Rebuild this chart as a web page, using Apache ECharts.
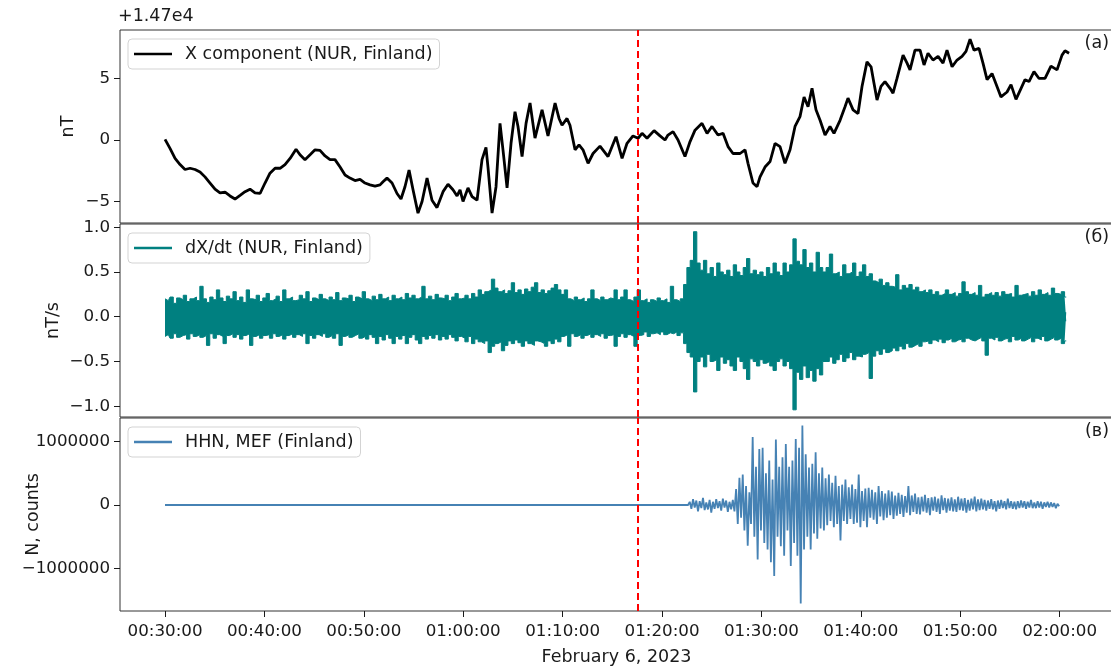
<!DOCTYPE html>
<html><head><meta charset="utf-8">
<script src="https://cdn.jsdelivr.net/npm/echarts@6/dist/echarts.min.js"></script>
<style>html,body{margin:0;padding:0;background:#fff}#c{width:1111px;height:666px}</style>
</head><body><div id="c"></div>
<script>
// time axis in minutes after 00:30:00 UTC, February 6, 2023
const xTicks = [0,10,20,30,40,50,60,70,80,90];
const yTicksX = [-5,0,5];
const yTicksD = [-1,-0.5,0,0.5,1];
const yTicksS = [-1000000,0,1000000];
const quakeMin = 47.58; // 01:17:35

// X component (offset from 14700 nT)
const xcT = [0,0.5,1.01,1.51,2.01,2.52,3.02,3.52,4.02,4.53,
5.03,5.53,6.04,6.54,7.04,7.55,8.05,8.55,9.05,9.56,
10.06,10.56,11.07,11.57,12.07,12.58,13.18,13.58,14.08,14.59,
15.09,15.59,16.1,16.6,17.1,17.61,18.11,18.61,19.11,19.62,
20.12,20.62,21.13,21.63,21.93,22.33,22.84,23.34,23.74,24.14,
24.55,24.95,25.45,25.86,26.36,26.86,27.36,27.97,28.47,28.97,
29.38,29.68,29.98,30.48,30.89,31.39,31.89,32.29,32.49,32.9,
33.3,33.7,34,34.41,34.81,35.21,35.51,35.92,36.32,36.72,
37.22,37.93,38.53,39.24,39.64,39.94,40.44,40.74,41.25,41.65,
42.05,42.56,43.06,43.76,44.57,45.37,45.98,46.48,47.08,47.59,
47.99,48.49,49.2,49.8,50.3,50.6,51.11,51.61,52.31,52.82,
53.32,54.02,54.53,55.03,55.63,56.14,56.64,57.14,57.85,58.35,
58.65,59.15,59.56,59.86,60.36,60.87,61.37,61.87,62.37,62.88,
63.38,63.88,64.29,64.69,65.09,65.49,65.9,66.4,66.9,67.3,
67.91,68.41,68.71,69.22,69.72,70.12,70.62,71.03,71.33,71.63,
72.03,72.43,72.94,73.24,73.64,74.25,74.65,74.95,75.45,75.96,
76.36,76.76,77.26,77.77,78.27,78.67,79.18,79.68,80.18,80.58,
80.99,81.39,81.89,82.29,82.7,83.2,83.7,84.1,84.71,85.11,
85.61,86.12,86.52,86.92,87.42,87.93,88.53,89.13,89.74,90.24,
90.54,90.95];
const xcV = [0.05,-0.68,-1.5,-2.0,-2.4,-2.3,-2.4,-2.6,-3.0,-3.5,
-4.0,-4.3,-4.25,-4.55,-4.8,-4.5,-4.2,-4.0,-4.3,-4.35,
-3.5,-2.7,-2.3,-2.3,-2.0,-1.5,-0.75,-1.2,-1.6,-1.2,
-0.8,-0.85,-1.3,-1.6,-1.6,-2.2,-2.85,-3.1,-3.3,-3.2,
-3.5,-3.65,-3.75,-3.65,-3.4,-3.1,-3.5,-4.35,-4.8,-3.8,
-2.45,-4.05,-5.95,-5.0,-3.1,-4.9,-5.5,-4.2,-3.6,-4.05,
-4.55,-4.05,-5.0,-3.9,-4.6,-4.9,-1.6,-0.6,-2.2,-5.95,
-3.8,1.35,-0.8,-3.9,-0.27,2.3,1.1,-1.35,1.35,3.0,
0.15,2.45,0.33,3.0,1.75,1.2,1.75,1.2,-0.8,-0.4,
-0.8,-1.9,-1.1,-0.5,-1.35,0.27,-1.5,-0.27,0.33,0.14,
0.54,0.14,0.76,0.33,0,0.4,0.68,0,-1.35,-0.13,
0.8,1.35,0.54,1.1,0.4,0.54,-0.54,-1.1,-1.1,-0.8,
-1.9,-3.5,-3.8,-3.0,-2.2,-1.75,-0.27,-0.54,-1.9,-0.8,
1.1,1.9,3.5,2.7,4.2,2.45,1.6,0.4,1.1,0.54,
1.6,2.7,3.4,2.45,2.15,4.35,6.35,5.95,4.6,3.25,
4.35,4.75,4.2,3.8,5.0,6.9,6.25,5.7,7.3,7.3,
6.1,7.05,6.5,6.8,6.25,7.3,5.95,6.5,6.8,7.2,
8.2,7.3,7.45,6.25,4.9,5.4,4.35,3.5,3.9,4.5,
3.3,4.2,4.9,4.75,5.55,5.0,5.0,6.0,5.7,6.9,
7.25,7.05];

// dX/dt: upper and lower excursions in each 20 s interval from 00:30:00
const dStepMin = 1/3;
const dHi = [.2,.18,.22,.15,.21,.19,.24,.17,.2,.22,
.18,.34,.2,.16,.22,.19,.3,.21,.17,.23,
.2,.28,.18,.22,.16,.3,.2,.19,.24,.17,
.21,.26,.18,.2,.23,.17,.3,.2,.22,.18,
.19,.24,.2,.28,.17,.21,.19,.25,.2,.18,
.22,.19,.27,.18,.21,.2,.24,.17,.22,.2,
.28,.2,.18,.23,.19,.25,.2,.22,.18,.24,
.2,.22,.19,.26,.21,.24,.2,.22,.34,.2,
.23,.19,.25,.21,.2,.24,.18,.22,.26,.2,
.21,.24,.2,.26,.22,.3,.25,.28,.3,.42,
.32,.28,.3,.26,.29,.38,.27,.3,.25,.31,
.28,.33,.38,.27,.3,.26,.29,.32,.36,.3,
.25,.3,.2,.18,.22,.19,.21,.17,.2,.3,
.2,.18,.22,.19,.21,.2,.3,.19,.22,.3,
.19,.17,.22,.3,.18,.2,.16,.19,.17,.21,
.18,.2,.16,.34,.19,.17,.2,.36,.55,.63,
.95,.6,.52,.63,.48,.55,.45,.6,.5,.47,
.52,.45,.58,.5,.46,.55,.65,.48,.52,.47,
.5,.45,.55,.48,.6,.5,.46,.6,.5,.58,
.87,.62,.58,.75,.55,.6,.5,.72,.55,.5,
.55,.7,.48,.5,.45,.58,.48,.5,.6,.45,
.5,.58,.45,.48,.4,.38,.42,.35,.38,.34,
.33,.47,.3,.35,.32,.36,.3,.33,.28,.3,
.27,.3,.25,.28,.24,.26,.3,.25,.27,.23,
.26,.39,.28,.25,.27,.24,.35,.22,.25,.27,
.24,.27,.23,.28,.25,.26,.22,.35,.24,.25,
.26,.23,.28,.24,.3,.25,.27,.24,.32,.26,
.25,.28,.22];
const dLo = [-.22,-.2,-.24,-.19,-.23,-.21,-.2,-.25,-.19,-.22,
-.2,-.23,-.21,-.32,-.19,-.24,-.2,-.22,-.3,-.21,
-.19,-.23,-.2,-.25,-.21,-.19,-.32,-.22,-.2,-.24,
-.21,-.2,-.24,-.19,-.22,-.2,-.25,-.21,-.19,-.23,
-.2,-.22,-.19,-.3,-.21,-.24,-.2,-.22,-.19,-.23,
-.21,-.24,-.19,-.32,-.22,-.2,-.23,-.21,-.19,-.24,
-.22,-.25,-.2,-.23,-.3,-.22,-.26,-.2,-.24,-.3,
-.22,-.25,-.21,-.3,-.23,-.2,-.26,-.3,-.22,-.25,
-.21,-.24,-.2,-.26,-.22,-.25,-.2,-.23,-.27,-.22,
-.24,-.28,-.22,-.3,-.25,-.28,-.3,-.27,-.4,-.33,
-.3,-.28,-.38,-.32,-.27,-.3,-.26,-.29,-.33,-.27,
-.3,-.32,-.27,-.28,-.3,-.33,-.27,-.3,-.25,-.28,
-.22,-.2,-.33,-.19,-.22,-.2,-.24,-.21,-.19,-.23,
-.2,-.22,-.19,-.24,-.21,-.2,-.33,-.22,-.19,-.23,
-.2,-.22,-.33,-.21,-.2,-.17,-.22,-.19,-.18,-.2,
-.17,-.2,-.18,-.19,-.17,-.21,-.18,-.3,-.4,-.45,
-.84,-.5,-.45,-.56,-.42,-.5,-.48,-.6,-.45,-.52,
-.48,-.55,-.6,-.45,-.5,-.58,-.7,-.47,-.5,-.55,
-.48,-.52,-.5,-.55,-.6,-.5,-.47,-.55,-.5,-.58,
-1.04,-.62,-.7,-.55,-.68,-.6,-.72,-.58,-.65,-.5,
-.5,-.45,-.52,-.48,-.42,-.5,-.46,-.4,-.48,-.44,
-.45,-.42,-.4,-.69,-.44,-.38,-.42,-.36,-.4,-.38,
-.35,-.38,-.33,-.36,-.3,-.34,-.32,-.3,-.33,-.28,
-.27,-.3,-.26,-.28,-.25,-.29,-.26,-.24,-.28,-.26,
-.25,-.28,-.24,-.26,-.27,-.25,-.23,-.27,-.43,-.24,
-.26,-.23,-.27,-.25,-.24,-.28,-.22,-.26,-.24,-.27,
-.25,-.23,-.28,-.24,-.26,-.22,-.27,-.25,-.23,-.26,
-.24,-.3,-.27];

// Seismometer HHN, MEF: quiet (0) until 01:22:37, then samples every 10 s
const sQuietVal = 0;
const sStartMin = 52.62;
const sStepMin = 1/6;
const sVals = [0,5e4,-6e4,9e4,-4e4,7e4,-1e5,6e4,-5e4,1.1e5,
-8e4,4e4,-7e4,8e4,-1.2e5,5e4,-6e4,9e4,-5e4,6e4,
-9e4,1e5,-4e4,7e4,-1.1e5,5e4,-7e4,8e4,-1e5,2.5e5,
-3e5,4.3e5,-2e5,4.8e5,-4e5,3e5,-6.4e5,2e5,-3e5,1.07e6,
-5e5,6e5,-8.6e5,8.8e5,-4e5,9e5,-6e5,5e5,-7e5,7e5,
-9e5,4e5,-1.12e6,1.03e6,-5e5,6e5,-6.5e5,7.5e5,-8e5,9.6e5,
-4e5,6e5,-9.6e5,7e5,-6e5,1.04e6,-8e5,9e5,-1.55e6,1.25e6,
-7e5,8e5,-5e5,5.9e5,-7e5,6.5e5,-4.5e5,8.3e5,-5.3e5,5e5,
-3.7e5,5.9e5,-4e5,4.2e5,-3.2e5,4.8e5,-2.5e5,3.5e5,-3.5e5,4.6e5,
-3e5,3e5,-5.6e5,3.2e5,-2.5e5,4e5,-3e5,2.8e5,-2.2e5,3.2e5,
-3e5,2.5e5,-2.8e5,4.8e5,-3.5e5,2.2e5,-2.5e5,2.6e5,-3.5e5,2.7e5,
-2e5,2.4e5,-2.3e5,2e5,-3e5,3e5,-1.8e5,2.2e5,-2.4e5,1.8e5,
-2e5,2.3e5,-1.6e5,2.1e5,-2.2e5,1.5e5,-1.7e5,1.9e5,-1.4e5,1.6e5,
-1.9e5,1.4e5,-1.2e5,3e5,-1.6e5,1.5e5,-1.1e5,1.8e5,-1.4e5,1.2e5,
-1.5e5,1.3e5,-1e5,1.6e5,-1.2e5,1.1e5,-1.6e5,1.2e5,-9e4,1.3e5,
-1.1e5,1e5,-1.4e5,1.5e5,-8e4,1.1e5,-1.2e5,1e5,-9e4,1.2e5,
-1e5,9e4,-1.1e5,1.3e5,-8e4,1e5,-9e4,1.1e5,-1.2e5,8e4,
-9e4,1e5,-7e4,1.3e5,-1e5,9e4,-8e4,1e5,-7e4,8e4,
-9e4,7e4,-6e4,9e4,-7e4,6e4,-1e5,7e4,-6e4,8e4,
-5e4,6e4,-7e4,1e5,-5e4,6e4,-6e4,5e4,-7e4,6e4,
-5e4,7e4,-4e4,6e4,-6e4,5e4,-4e4,8e4,-5e4,4e4,
-5e4,6e4,-4e4,5e4,-6e4,4e4,-3e4,5e4,-4e4,4e4,
-3e4,3e4,-5e4,2e4,-2e4];

const xcData = xcT.map((t,i)=>[t, xcV[i]]);
const dHiData = dHi.map((v,i)=>[i*dStepMin, v]);
const dLoData = dLo.map((v,i)=>[i*dStepMin, v]);
const sData = [[0, sQuietVal]];
sVals.forEach((v,k)=>{ sData.push([sStartMin + k*sStepMin, v]); });

const FONT = 'DejaVu Sans';
const TXT = '#1a1a1a';
const TICKFS = 16.7, BIGFS = 17.5;
const TEAL = '#008080';
const minus = s => String(s).replace('-', '\u2212');
const pad = n => (n<10?'0':'') + n;
function fmtTime(m){
  const tot = 30*60 + Math.round(m*60);
  return pad(Math.floor(tot/3600)) + ':' + pad(Math.floor(tot%3600/60)) + ':' + pad(tot%60);
}
const xMin = -4.53, xMax = 95.37;
const grids = [
  {left:120, right:-2, top:30, height:193},
  {left:120, right:-2, top:224, height:193},
  {left:120, right:-2, top:418, height:193}
].map(g => Object.assign(g, {show:true, borderColor:'#333', borderWidth:1, backgroundColor:'transparent',
   containLabel:false, outerBoundsMode:'none'}));

function xAx(i, show){
  return {type:'value', gridIndex:i, min:xMin, max:xMax,
    axisLine:{show:false, onZero:false}, splitLine:{show:false},
    axisTick:{show:show, customValues:xTicks, length:6, lineStyle:{color:TXT}},
    axisLabel:{show:show, customValues:xTicks, formatter:fmtTime, fontSize:TICKFS, color:TXT, fontFamily:FONT, margin:12},
    name: show ? 'February 6, 2023' : '', nameLocation:'middle', nameGap:37, nameMoveOverlap:false,
    nameTextStyle:{fontSize:BIGFS, color:TXT, fontFamily:FONT}};
}
function yAx(i, min, max, ticks, fmt, name, gap){
  return {type:'value', gridIndex:i, min:min, max:max,
    axisLine:{show:false, onZero:false}, splitLine:{show:false},
    axisTick:{show:true, customValues:ticks, length:6, lineStyle:{color:TXT}},
    axisLabel:{customValues:ticks, formatter:fmt, fontSize:TICKFS, color:TXT, fontFamily:FONT, margin:10},
    name:name, nameLocation:'middle', nameGap:gap, nameMoveOverlap:false,
    nameTextStyle:{fontSize:BIGFS, color:TXT, fontFamily:FONT}};
}
const legCommon = {left:128, orient:'horizontal', icon:'rect', itemWidth:38, itemHeight:2.5,
  padding:[6,7,6,6], backgroundColor:'rgba(255,255,255,0.8)', borderColor:'#d3d3d3', borderWidth:1, borderRadius:4,
  selectedMode:false, textStyle:{fontSize:BIGFS, color:TXT, fontFamily:FONT, padding:[0,0,0,8]}};
const mark = {silent:true, symbol:['none','none'], label:{show:false}, animation:false,
  lineStyle:{color:'#ff0000', width:2, type:[7,4]}, data:[{xAxis:quakeMin}]};
const dName = 'dX/dt (NUR, Finland)';

const chart = echarts.init(document.getElementById('c'), null, {renderer:'canvas'});
chart.setOption({
  animation:false,
  textStyle:{fontFamily:FONT},
  grid: grids,
  xAxis:[xAx(0,false), xAx(1,false), xAx(2,true)],
  yAxis:[
    yAx(0, -6.75, 8.94, yTicksX, v=>minus(v), 'nT', 43),
    yAx(1, -1.12, 1.036, yTicksD, v=>minus(v.toFixed(1)), 'nT/s', 58),
    yAx(2, -1670000, 1370000, yTicksS, v=>minus(v), 'N, counts', 78)
  ],
  legend:[
    Object.assign({}, legCommon, {top:39, data:['X component (NUR, Finland)']}),
    Object.assign({}, legCommon, {top:233, data:[dName]}),
    Object.assign({}, legCommon, {top:427, data:['HHN, MEF (Finland)']})
  ],
  graphic:[
    {type:'text', left:118, top:7, style:{text:'+1.47e4', fontSize:BIGFS, fill:TXT, fontFamily:FONT}},
    {type:'text', right:2, top:34, style:{text:'(a)', fontSize:BIGFS, fill:TXT, fontFamily:FONT}},
    {type:'text', right:2, top:228, style:{text:'(б)', fontSize:BIGFS, fill:TXT, fontFamily:FONT}},
    {type:'text', right:2, top:422, style:{text:'(в)', fontSize:BIGFS, fill:TXT, fontFamily:FONT}}
  ],
  series:[
    {type:'line', name:'X component (NUR, Finland)', xAxisIndex:0, yAxisIndex:0, data:xcData,
     symbol:'none', showSymbol:false, lineStyle:{color:'#000', width:2.8}, itemStyle:{color:'#000'}, markLine:mark},
    {type:'line', name:dName, xAxisIndex:1, yAxisIndex:1, data:dHiData, step:'middle',
     symbol:'none', showSymbol:false, lineStyle:{color:TEAL, width:1}, itemStyle:{color:TEAL},
     areaStyle:{color:TEAL, opacity:1, origin:-0.05}},
    {type:'line', name:dName, xAxisIndex:1, yAxisIndex:1, data:dLoData, step:'middle',
     symbol:'none', showSymbol:false, lineStyle:{color:TEAL, width:1}, itemStyle:{color:TEAL},
     areaStyle:{color:TEAL, opacity:1, origin:0.05}},
    {type:'line', xAxisIndex:1, yAxisIndex:1, data:[], z:5, markLine:mark},
    {type:'line', name:'HHN, MEF (Finland)', xAxisIndex:2, yAxisIndex:2, data:sData,
     symbol:'none', showSymbol:false, lineStyle:{color:'#4682b4', width:1.8}, itemStyle:{color:'#4682b4'}, markLine:mark}
  ]
});
</script>
</body></html>
